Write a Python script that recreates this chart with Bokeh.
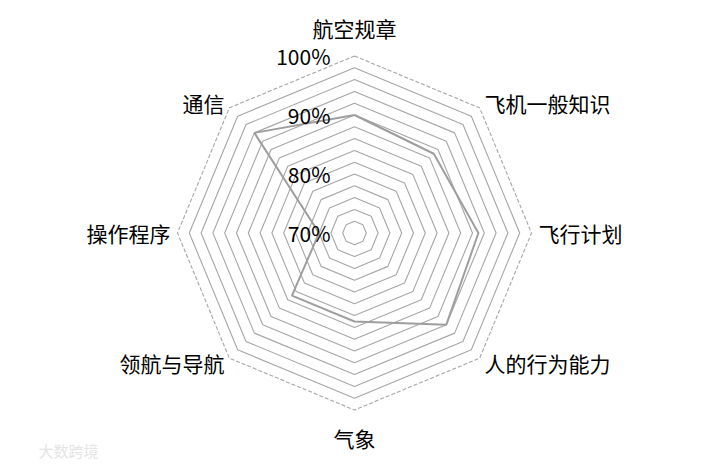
import numpy as np
from bokeh.plotting import figure
from bokeh.models import Range1d, ColumnDataSource
from bokeh.embed import file_html
from bokeh.resources import INLINE
from bokeh.core.properties import value

# ---- data ----
categories = ["航空规章", "飞机一般知识", "飞行计划", "人的行为能力",
              "气象", "领航与导航", "操作程序", "通信"]
scores = [90, 89, 91, 92, 85, 85, 76, 94]
ring_values = [72, 74, 76, 78, 80, 82, 84, 86, 88, 90, 92, 94, 96, 98, 100]
dashed_rings = [100]
tick_values = [70, 80, 90, 100]
tick_labels = ["70%", "80%", "90%", "100%"]
watermark = "大数跨境"

V_MIN, V_MAX = 70, 100
R = 177
n = len(categories)
angles = np.pi / 2 - np.arange(n) * 2 * np.pi / n


def radius(v):
    return R * (v - V_MIN) / (V_MAX - V_MIN)


FONT = value("Noto Sans CJK SC")

p = figure(width=709, height=465, output_backend="svg", toolbar_location=None,
           x_range=Range1d(-354, 355), y_range=Range1d(-232.5, 232.5),
           x_axis_type=None, y_axis_type=None, min_border=0)
p.grid.visible = False
p.outline_line_color = None
p.background_fill_color = "white"
p.border_fill_color = "white"

# rings
solid_xs, solid_ys, dash_xs, dash_ys = [], [], [], []
for v in ring_values:
    r = radius(v)
    xs = list(r * np.cos(angles)) + [r * np.cos(angles[0])]
    ys = list(r * np.sin(angles)) + [r * np.sin(angles[0])]
    if v in dashed_rings:
        dash_xs.append(xs); dash_ys.append(ys)
    else:
        solid_xs.append(xs); solid_ys.append(ys)
p.multi_line(solid_xs, solid_ys, line_color="#a6a6a6", line_width=1.1)
p.multi_line(dash_xs, dash_ys, line_color="#a6a6a6", line_width=1.1, line_dash="4 2")

# data polygon
rs = np.array([radius(v) for v in scores])
dx = list(rs * np.cos(angles)) + [rs[0] * np.cos(angles[0])]
dy = list(rs * np.sin(angles)) + [rs[0] * np.sin(angles[0])]
p.line(dx, dy, line_color="#9e9e9e", line_width=2)

# category labels
lx, ly, la, lb = [], [], [], []
for a in angles:
    c, s = np.cos(a), np.sin(a)
    if abs(c) < 0.01:
        d = 190
        la.append("center")
        lb.append("bottom" if s > 0 else "top")
    else:
        d = 184
        la.append("left" if c > 0 else "right")
        lb.append("middle")
    lx.append(d * c)
    ly.append(d * s)
src = ColumnDataSource(dict(x=lx, y=ly, t=categories, a=la, b=lb))
p.text(x="x", y="y", text="t", text_align="a", text_baseline="b", source=src,
       text_font=FONT, text_font_size="21px", text_color="#000000")

# tick labels
p.text(x=[-24] * len(tick_values), y=[radius(v) for v in tick_values], text=tick_labels,
       text_align="right", text_baseline="middle", text_font=FONT,
       text_font_size="21px", text_color="#000000")

# watermark
p.text(x=[-316], y=[-217], text=[watermark], text_align="left", text_baseline="middle",
       text_font=FONT, text_font_size="15px", text_color="#e4e4e4")

open("out.html", "w").write(file_html(p, INLINE))
